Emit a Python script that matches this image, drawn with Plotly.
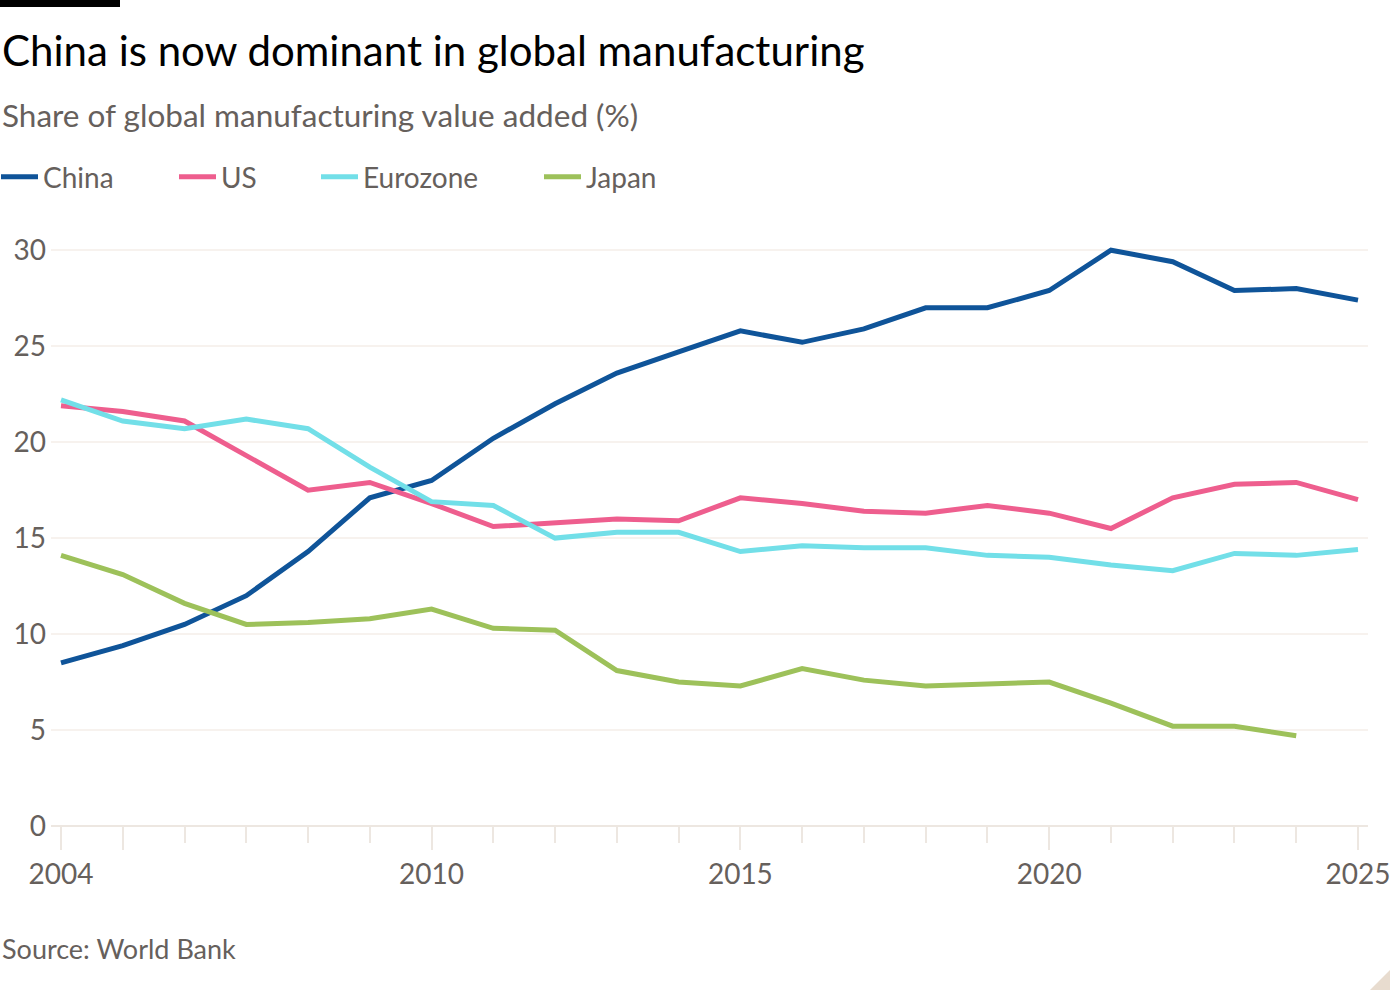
import plotly.graph_objects as go

years = list(range(2004, 2026))

china = [8.5, 9.4, 10.5, 12.0, 14.3, 17.1, 18.0, 20.2, 22.0, 23.6, 24.7,
         25.8, 25.2, 25.9, 27.0, 27.0, 27.9, 30.0, 29.4, 27.9, 28.0, 27.4]
us = [21.9, 21.6, 21.1, 19.3, 17.5, 17.9, 16.8, 15.6, 15.8, 16.0, 15.9,
      17.1, 16.8, 16.4, 16.3, 16.7, 16.3, 15.5, 17.1, 17.8, 17.9, 17.0]
eurozone = [22.2, 21.1, 20.7, 21.2, 20.7, 18.7, 16.9, 16.7, 15.0, 15.3, 15.3,
            14.3, 14.6, 14.5, 14.5, 14.1, 14.0, 13.6, 13.3, 14.2, 14.1, 14.4]
japan = [14.1, 13.1, 11.6, 10.5, 10.6, 10.8, 11.3, 10.3, 10.2, 8.1, 7.5,
         7.3, 8.2, 7.6, 7.3, 7.4, 7.5, 6.4, 5.2, 5.2, 4.7, None]

names = ["China", "US", "Eurozone", "Japan"]
colors = ["#0f5499", "#ee5e8e", "#72dfe8", "#9dc15a"]

tick_years = [2004, 2005, 2010, 2015, 2020, 2025]
tick_labels = ["2004", "", "2010", "2015", "2020", "2025"]

FONT = "Lato"
GREY = "#66605c"

# plot area in pixels
L, R, T, B = 51, 32, 231, 174
W, H = 1400, 1000
PW, PH = W - L - R, H - T - B


def fx(px):
    return (px - L) / PW


def fy(py):
    return (H - B - py) / PH


fig = go.Figure()

series = [china, us, eurozone, japan]
legend_x = [0, 178, 320, 543]
for i, (name, vals, col) in enumerate(zip(names, series, colors)):
    fig.add_trace(go.Scatter(
        x=years, y=vals, name=name, mode="lines",
        line=dict(color=col, width=5),
        legend="legend" if i == 0 else "legend%d" % (i + 1),
    ))

# one legend per series so each entry sits where the original puts it
legends = {}
for i, lx in enumerate(legend_x):
    key = "legend" if i == 0 else "legend%d" % (i + 1)
    legends[key] = dict(
        x=fx(lx - 4), y=fy(177), xanchor="left", yanchor="middle",
        orientation="h", bgcolor="rgba(0,0,0,0)", borderwidth=0,
        itemwidth=37,
        font=dict(family=FONT, size=28, color=GREY),
    )

fig.update_layout(
    width=W, height=H,
    margin=dict(l=L, r=R, t=T, b=B, pad=0, autoexpand=False),
    paper_bgcolor="white", plot_bgcolor="white",
    font=dict(family=FONT, color=GREY),
    showlegend=True,
    **legends,
)

fig.update_xaxes(
    range=[2004 - 10 / 61.76, 2025 + 10 / 61.76],
    tickmode="array", tickvals=tick_years, ticktext=tick_labels,
    ticks="outside", ticklen=23, tickwidth=1.5, tickcolor="#ede7e1",
    showgrid=False, zeroline=False, showline=False, automargin=False,
    tickfont=dict(family=FONT, size=28, color=GREY),
    minor=dict(tickmode="linear", tick0=2004, dtick=1, ticks="outside",
               ticklen=16, tickwidth=1.5, tickcolor="#ede7e1", showgrid=False),
)

fig.update_yaxes(
    range=[0, 31], dtick=5, tick0=0,
    showgrid=True, gridcolor="#f7f2ee", gridwidth=1.5,
    zeroline=True, zerolinecolor="#ede7e1", zerolinewidth=2,
    showline=False, ticks="", automargin=False,
    tickfont=dict(family=FONT, size=28, color=GREY),
    ticklabelstandoff=4,
)

fig.add_annotation(
    text="China is now dominant in global manufacturing",
    xref="paper", yref="paper", x=fx(0), y=fy(50),
    xanchor="left", yanchor="middle", showarrow=False,
    font=dict(family=FONT, size=42, color="#000000"),
)
fig.add_annotation(
    text="Share of global manufacturing value added (%)",
    xref="paper", yref="paper", x=fx(0), y=fy(115),
    xanchor="left", yanchor="middle", showarrow=False,
    font=dict(family=FONT, size=31.5, color=GREY),
)
fig.add_annotation(
    text="Source: World Bank",
    xref="paper", yref="paper", x=fx(0), y=fy(948),
    xanchor="left", yanchor="middle", showarrow=False,
    font=dict(family=FONT, size=27, color=GREY),
)

# black bar at top left
fig.add_shape(type="rect", xref="paper", yref="paper",
              x0=fx(0), x1=fx(120), y0=fy(0), y1=fy(7),
              fillcolor="black", line=dict(width=0), layer="above")

# small corner triangle at bottom right
fig.add_shape(type="path", xref="paper", yref="paper",
              path="M %f %f L %f %f L %f %f Z" % (
                  fx(1390), fy(970), fx(1390), fy(990), fx(1370), fy(990)),
              fillcolor="#e8dccf", line=dict(width=0), layer="above")

# drop the default page margin so the figure fills the window exactly
fig.write_html("out.html", config={"displayModeBar": False},
               post_script="document.body.style.margin='0';")
